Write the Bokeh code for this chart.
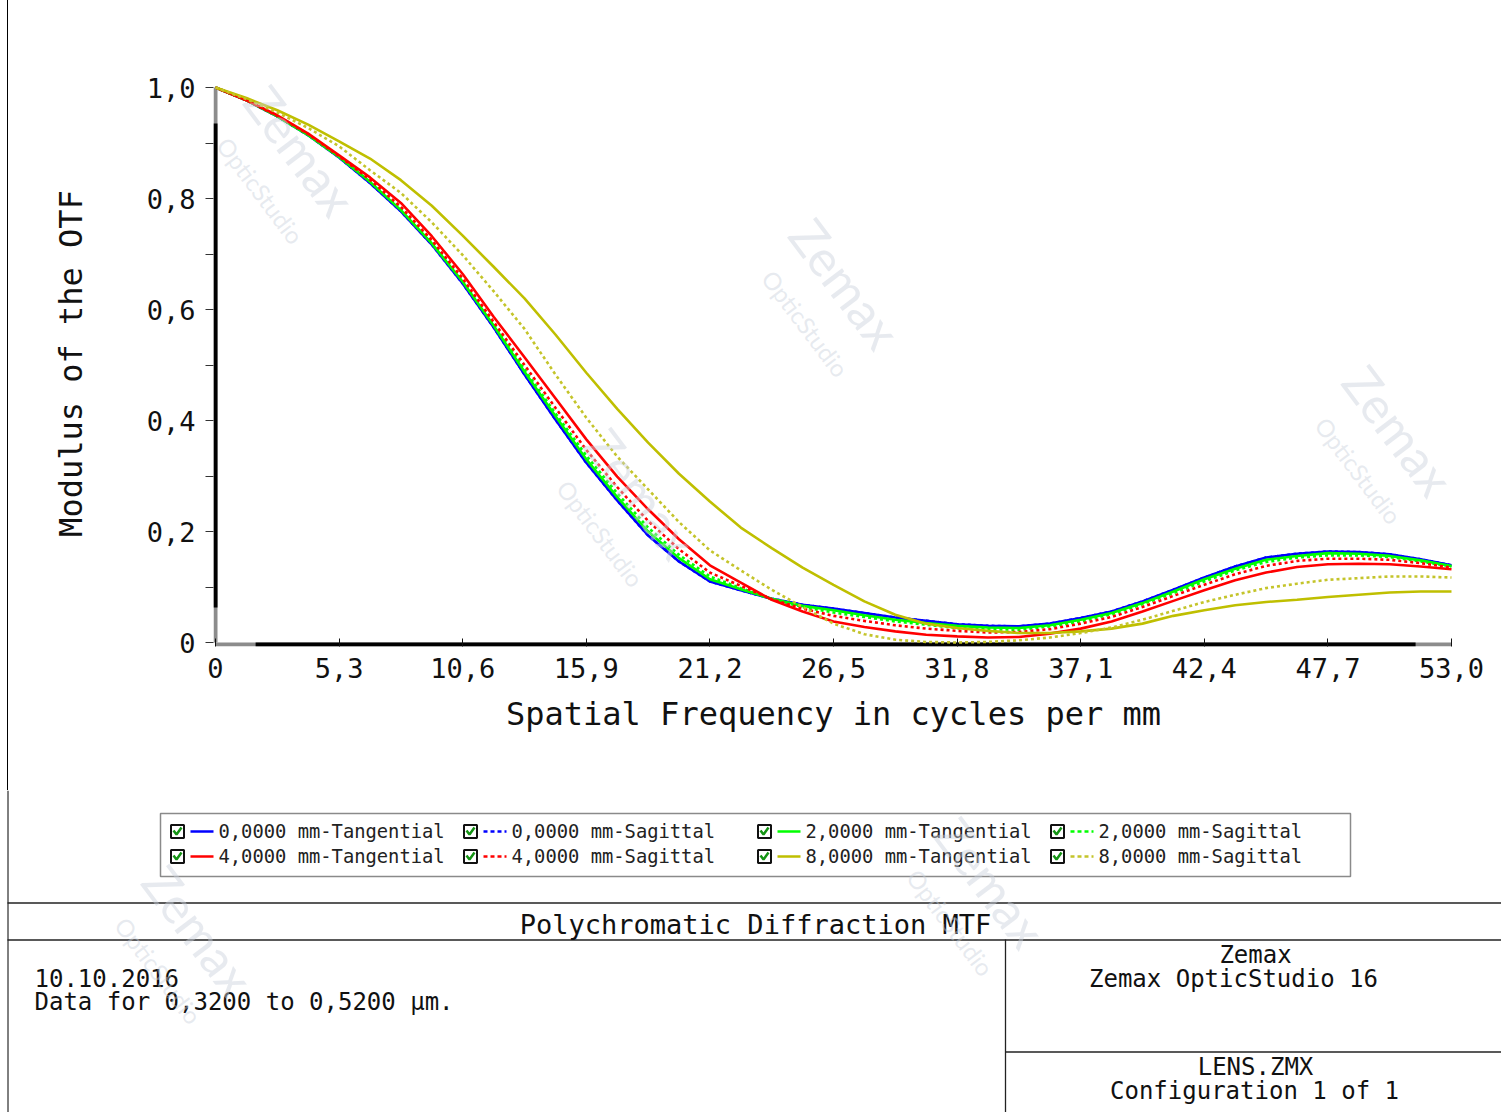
from bokeh.plotting import figure
from bokeh.layouts import column, row
from bokeh.models import Range1d, FixedTicker, CustomJSTickFormatter, Label, Div
from bokeh.embed import file_html
from bokeh.resources import INLINE
from bokeh.core.properties import value

# ---------------------------------------------------------------------------
# MTF data (spatial frequency in cycles/mm, modulus of the OTF)
# ---------------------------------------------------------------------------
FREQ = [0, 1.325, 2.65, 3.975, 5.3, 6.625, 7.95, 9.275, 10.6, 11.925,
        13.25, 14.575, 15.9, 17.225, 18.55, 19.875, 21.2, 22.525, 23.85, 25.175,
        26.5, 27.825, 29.15, 30.475, 31.8, 33.125, 34.45, 35.775, 37.1, 38.425,
        39.75, 41.075, 42.4, 43.725, 45.05, 46.375, 47.7, 49.025, 50.35, 51.675,
        53.0]

MTF_0_T = [1.000, 0.977, 0.948, 0.914, 0.874, 0.828, 0.777, 0.717, 0.647, 0.568,
           0.483, 0.402, 0.324, 0.256, 0.193, 0.146, 0.110, 0.094, 0.079, 0.068,
           0.061, 0.053, 0.045, 0.039, 0.033, 0.030, 0.029, 0.034, 0.044, 0.056,
           0.074, 0.095, 0.117, 0.137, 0.153, 0.160, 0.164, 0.163, 0.159, 0.150,
           0.139]
MTF_0_S = [1.000, 0.977, 0.948, 0.914, 0.874, 0.828, 0.777, 0.717, 0.647, 0.568,
           0.483, 0.402, 0.324, 0.256, 0.193, 0.146, 0.110, 0.094, 0.079, 0.068,
           0.061, 0.053, 0.045, 0.039, 0.033, 0.030, 0.029, 0.034, 0.044, 0.056,
           0.074, 0.095, 0.117, 0.137, 0.153, 0.160, 0.164, 0.163, 0.159, 0.150,
           0.139]
MTF_2_T = [1.000, 0.977, 0.948, 0.914, 0.875, 0.830, 0.779, 0.719, 0.650, 0.571,
           0.488, 0.408, 0.330, 0.262, 0.200, 0.152, 0.114, 0.096, 0.079, 0.066,
           0.058, 0.049, 0.041, 0.035, 0.030, 0.027, 0.026, 0.031, 0.041, 0.053,
           0.071, 0.092, 0.114, 0.133, 0.149, 0.156, 0.161, 0.160, 0.156, 0.148,
           0.138]
MTF_2_S = [1.000, 0.977, 0.949, 0.915, 0.875, 0.831, 0.782, 0.722, 0.652, 0.574,
           0.492, 0.413, 0.337, 0.269, 0.207, 0.158, 0.119, 0.098, 0.078, 0.064,
           0.054, 0.046, 0.038, 0.032, 0.026, 0.024, 0.023, 0.029, 0.038, 0.051,
           0.069, 0.089, 0.110, 0.130, 0.145, 0.153, 0.157, 0.157, 0.154, 0.146,
           0.137]
MTF_4_T = [1.000, 0.977, 0.950, 0.917, 0.878, 0.838, 0.792, 0.732, 0.664, 0.587,
           0.514, 0.440, 0.366, 0.299, 0.240, 0.186, 0.139, 0.108, 0.077, 0.056,
           0.038, 0.028, 0.020, 0.014, 0.011, 0.009, 0.010, 0.016, 0.025, 0.038,
           0.056, 0.075, 0.094, 0.112, 0.126, 0.136, 0.141, 0.142, 0.141, 0.137,
           0.132]
MTF_4_S = [1.000, 0.977, 0.949, 0.916, 0.876, 0.834, 0.785, 0.725, 0.656, 0.578,
           0.500, 0.423, 0.347, 0.280, 0.219, 0.168, 0.126, 0.102, 0.078, 0.061,
           0.048, 0.039, 0.031, 0.025, 0.021, 0.018, 0.019, 0.024, 0.034, 0.046,
           0.064, 0.084, 0.104, 0.123, 0.138, 0.147, 0.151, 0.151, 0.149, 0.143,
           0.135]
MTF_8_T = [1.000, 0.981, 0.959, 0.933, 0.903, 0.872, 0.833, 0.787, 0.733, 0.677,
           0.620, 0.555, 0.486, 0.421, 0.360, 0.304, 0.254, 0.207, 0.170, 0.135,
           0.104, 0.074, 0.050, 0.034, 0.026, 0.021, 0.017, 0.017, 0.020, 0.025,
           0.034, 0.048, 0.058, 0.067, 0.073, 0.077, 0.082, 0.086, 0.090, 0.092,
           0.092]
MTF_8_S = [1.000, 0.979, 0.955, 0.927, 0.894, 0.851, 0.810, 0.757, 0.698, 0.633,
           0.565, 0.483, 0.405, 0.335, 0.276, 0.217, 0.166, 0.130, 0.095, 0.064,
           0.034, 0.015, 0.005, 0.001, 0.000, 0.001, 0.004, 0.009, 0.017, 0.027,
           0.041, 0.057, 0.073, 0.086, 0.098, 0.106, 0.113, 0.116, 0.119, 0.119,
           0.117]

SERIES_LABELS = ["0,0000 mm-Tangential", "0,0000 mm-Sagittal",
                 "2,0000 mm-Tangential", "2,0000 mm-Sagittal",
                 "4,0000 mm-Tangential", "4,0000 mm-Sagittal",
                 "8,0000 mm-Tangential", "8,0000 mm-Sagittal"]
SERIES_VALUES = [MTF_0_T, MTF_0_S, MTF_2_T, MTF_2_S, MTF_4_T, MTF_4_S, MTF_8_T, MTF_8_S]

X_TICKS = [0, 5.3, 10.6, 15.9, 21.2, 26.5, 31.8, 37.1, 42.4, 47.7, 53.0]
Y_TICKS = [0, 0.2, 0.4, 0.6, 0.8, 1.0]
Y_MINOR = [0.1, 0.3, 0.5, 0.7, 0.9]

TITLE = "Polychromatic Diffraction MTF"
DATE_TEXT = "10.10.2016"
DATA_TEXT = "Data for 0,3200 to 0,5200 \u00b5m."

# ---------------------------------------------------------------------------
# Styling
# ---------------------------------------------------------------------------
COLORS = ["#0000ff", "#0000ff", "#00ff00", "#00ff00",
          "#ff0000", "#ff0000", "#bfbf00", "#c4c42a"]
DASHES = ["solid", "3 3", "solid", "3 3", "solid", "3 3", "solid", "3 3"]
MONO = "DejaVu Sans Mono"
WM_FONT = "Lato"
WM_COLOR = "#c9d1dc"

PX_X = 23.32   # pixels per cycle/mm
PX_Y = 555.0   # pixels per unit modulus
X_MAX = 53.0

# ---------------------------------------------------------------------------
# Main MTF plot
# ---------------------------------------------------------------------------
p = figure(width=1493, height=790, output_backend="svg", toolbar_location=None,
           x_range=Range1d(-2 / PX_X, X_MAX + 2 / PX_X),
           y_range=Range1d(-4 / PX_Y, 1 + 7 / PX_Y),
           min_border_left=205, min_border_right=48,
           min_border_top=80, min_border_bottom=144)
p.outline_line_color = None
p.grid.visible = False
p.background_fill_color = "white"
p.border_fill_color = "white"

fmt = CustomJSTickFormatter(code="return tick == 0 ? '0' : tick.toFixed(1).replace('.', ',');")

xa = p.xaxis[0]
xa.ticker = FixedTicker(ticks=X_TICKS)
xa.formatter = fmt
xa.axis_line_color = None
xa.major_tick_in = 8
xa.major_tick_out = 0
xa.major_tick_line_color = "#111111"
xa.minor_tick_line_color = None
xa.major_label_text_font = MONO
xa.major_label_text_font_size = "27px"
xa.major_label_text_color = "#111111"
xa.major_label_standoff = 11
xa.axis_label = "Spatial Frequency in cycles per mm"
xa.axis_label_text_font = MONO
xa.axis_label_text_font_size = "32px"
xa.axis_label_text_font_style = "normal"
xa.axis_label_text_color = "#111111"
xa.axis_label_standoff = 14

ya = p.yaxis[0]
ya.ticker = FixedTicker(ticks=Y_TICKS, minor_ticks=Y_MINOR)
ya.formatter = fmt
ya.axis_line_color = None
ya.major_tick_in = 0
ya.major_tick_out = 8
ya.minor_tick_in = 0
ya.minor_tick_out = 8
ya.major_tick_line_color = "#333333"
ya.minor_tick_line_color = "#333333"
ya.major_label_text_font = MONO
ya.major_label_text_font_size = "27px"
ya.major_label_text_color = "#111111"
ya.major_label_standoff = 10
ya.axis_label = "Modulus of the OTF"
ya.axis_label_text_font = MONO
ya.axis_label_text_font_size = "32px"
ya.axis_label_text_font_style = "normal"
ya.axis_label_text_color = "#111111"
ya.axis_label_standoff = 54


def add_watermark(fig, centres, to_x, to_y):
    """Faint diagonal 'Zemax / OpticStudio' stamps at page-pixel centres."""
    for cx, cy in centres:
        for dx, dy, txt, size in [(0, 0, "Zemax", "50px"), (-40, 40, "OpticStudio", "24px")]:
            fig.add_layout(Label(x=to_x(cx + dx), y=to_y(cy + dy), text=txt,
                                 angle=-53, angle_units="deg", text_align="center",
                                 text_baseline="middle", text_font=WM_FONT,
                                 text_font_size=size, text_color=WM_COLOR, text_alpha=0.45))


add_watermark(p, [(300, 150), (845, 283), (1398, 430), (640, 493)],
              lambda px: (px - 215) / PX_X, lambda py: (642 - py) / PX_Y)

# axis lines: grey end caps with a heavy black middle
y_line = -2 / PX_Y
p.segment(x0=[0], y0=[0], x1=[0], y1=[1.0], line_color="#8c8c8c", line_width=4)
p.segment(x0=[0], y0=[0.063], x1=[0], y1=[0.935], line_color="black", line_width=4)
p.segment(x0=[0], y0=[y_line], x1=[X_MAX], y1=[y_line], line_color="#8c8c8c", line_width=4)
p.segment(x0=[1.72], y0=[y_line], x1=[51.46], y1=[y_line], line_color="black", line_width=4)

for vals, col, dash in zip(SERIES_VALUES, COLORS, DASHES):
    p.line(FREQ, vals, line_color=col, line_width=2.6, line_dash=dash)

# thin rule running down the left edge of the page
left_rule = Div(text="", width=8, height=790, margin=(0, 0, 0, 0),
                styles={"border-right": "1px solid #000000", "box-sizing": "border-box",
                        "padding": "0px", "margin": "0px"})

# ---------------------------------------------------------------------------
# Legend and report footer (page pixel space)
# ---------------------------------------------------------------------------
foot = figure(width=1501, height=322, output_backend="svg", toolbar_location=None,
              x_range=Range1d(0, 1501), y_range=Range1d(1112, 790),
              x_axis_type=None, y_axis_type=None, min_border=0)
foot.outline_line_color = None
foot.grid.visible = False
foot.background_fill_color = "white"

add_watermark(foot, [(990, 882), (198, 930)], lambda px: px, lambda py: py)

foot.segment(x0=[7.5], y0=[790], x1=[7.5], y1=[1112], line_color="black", line_width=1)

# legend frame
foot.quad(left=[160], right=[1350], top=[813], bottom=[876],
          fill_color="white", line_color="#8a8a8a", line_width=1.5)

LEG_COL_X = [177, 470, 764, 1057]
LEG_ROW_Y = [831, 856]
for i, (lab, col, dash) in enumerate(zip(SERIES_LABELS, COLORS, DASHES)):
    cx = LEG_COL_X[i % 4]
    cy = LEG_ROW_Y[i // 4]
    foot.rect(x=[cx], y=[cy], width=13, height=13, fill_color="white",
              line_color="#111111", line_width=2)
    foot.line(x=[cx - 4, cx - 1, cx + 4], y=[cy - 1, cy + 3, cy - 4],
              line_color="#149414", line_width=2.5)
    foot.segment(x0=[cx + 13], y0=[cy], x1=[cx + 36], y1=[cy], line_color=col,
                 line_width=2.6, line_dash="4 3" if dash != "solid" else "solid")
    foot.text(x=[cx + 41], y=[cy], text=[lab], text_font=value(MONO),
              text_font_size="18.8px", text_color="#222222",
              text_align="left", text_baseline="middle")

# report box lines
foot.segment(x0=[7, 7, 1005, 1005], y0=[902.5, 939.5, 939, 1051.5],
             x1=[1501, 1501, 1005, 1501], y1=[902.5, 939.5, 1112, 1051.5],
             line_color="#222222", line_width=1.3)

foot.text(x=[755], y=[924], text=[TITLE], text_font=value(MONO),
          text_font_size="27px", text_color="#111111",
          text_align="center", text_baseline="middle")
foot.text(x=[34, 34], y=[977, 1001], text=[DATE_TEXT, DATA_TEXT], text_font=value(MONO),
          text_font_size="24px", text_color="#111111",
          text_align="left", text_baseline="middle")
foot.text(x=[1255, 1233, 1255, 1254], y=[954, 978, 1066, 1090],
          text=["Zemax", "Zemax OpticStudio 16", "LENS.ZMX", "Configuration 1 of 1"],
          text_font=value(MONO), text_font_size="24px", text_color="#111111",
          text_align="center", text_baseline="middle")

layout = column(row(left_rule, p), foot)
open("out.html", "w").write(file_html(layout, INLINE, title="Polychromatic Diffraction MTF"))
